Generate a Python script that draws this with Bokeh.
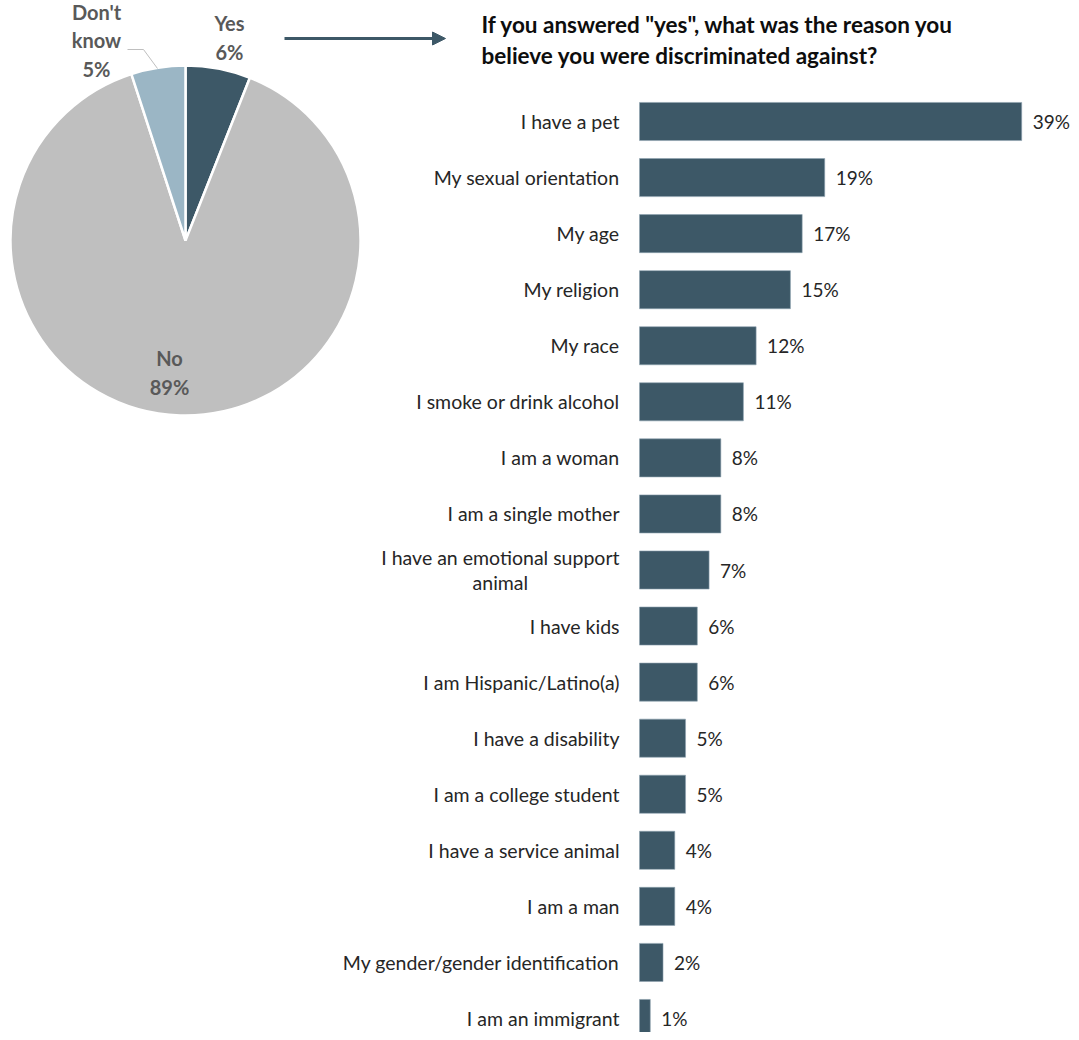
import math
from bokeh.plotting import figure
from bokeh.models import Range1d, Arrow, NormalHead, ColumnDataSource
from bokeh.core.properties import value
from bokeh.embed import file_html
from bokeh.resources import INLINE

# ---------------- data ----------------
pie_labels = ["Yes", "No", "Don't know"]
pie_values = [6, 89, 5]
pie_colors = ["#3d5867", "#bfbfbf", "#9bb6c5"]

title_lines = ['If you answered "yes", what was the reason you',
               'believe you were discriminated against?']

categories = [
    "I have a pet", "My sexual orientation", "My age", "My religion", "My race",
    "I smoke or drink alcohol", "I am a woman", "I am a single mother",
    "I have an emotional support\nanimal", "I have kids", "I am Hispanic/Latino(a)",
    "I have a disability", "I am a college student", "I have a service animal",
    "I am a man", "My gender/gender identification", "I am an immigrant",
]
values = [39.0, 18.9, 16.6, 15.4, 11.9, 10.6, 8.3, 8.3, 7.1, 5.9, 5.9, 4.7, 4.7, 3.6, 3.6, 2.4, 1.1]

BAR_COLOR = "#3d5867"
TEXT_COLOR = "#262626"
PIE_TEXT = "#595959"
FONT = "Lato"

W, H = 1071, 1032
n = len(categories)
top_c, bot_c = 121.0, 1018.0          # canvas centres of first / last bar
pitch = (bot_c - top_c) / (n - 1)
px_per_pct = 9.8
bar_left_px = 639

def Y(r):  # reference pixel row -> "py" range value
    return H - r

p = figure(width=W, height=H, output_backend="svg", toolbar_location=None,
           x_range=Range1d(-bar_left_px / px_per_pct, (W - bar_left_px) / px_per_pct),
           y_range=Range1d(-(H - bot_c) / pitch, (n - 1) + top_c / pitch),
           min_border=0, min_border_left=0, min_border_right=0,
           min_border_top=0, min_border_bottom=0)
p.axis.visible = False
p.grid.visible = False
p.outline_line_color = None
p.background_fill_color = "white"
p.border_fill_color = "white"

p.extra_x_ranges = {"px": Range1d(0, W)}
p.extra_y_ranges = {"py": Range1d(0, H)}

# ---------------- bars ----------------
ys = [n - 1 - i for i in range(n)]
src = ColumnDataSource(dict(
    y=ys, v=values, cat=categories,
    lab=[f"{v:.0f}%" for v in values],
))
p.hbar(y="y", left=0, right="v", height=0.68, source=src,
       fill_color=BAR_COLOR, line_color="#8ea3b0", line_width=0.6)
p.text(x=0, y="y", text="cat", source=src, x_offset=-20,
       anchor="center_right", text_align="center", text_baseline="middle",
       text_font=value(FONT), text_font_size="19.5px", text_color=TEXT_COLOR,
       text_line_height=1.12)
p.text(x="v", y="y", text="lab", source=src, x_offset=11,
       text_align="left", text_baseline="middle",
       text_font=value(FONT), text_font_size="19px", text_color=TEXT_COLOR)

# ---------------- title ----------------
p.text(x=[481, 481], y=[Y(24), Y(55)], text=title_lines,
       x_range_name="px", y_range_name="py",
       text_align="left", text_baseline="middle",
       text_font=value(FONT), text_font_style="bold", text_font_size="22.5px",
       text_color="#0d0d0d")

# ---------------- arrow ----------------
p.add_layout(Arrow(x_start=284, y_start=Y(38), x_end=445, y_end=Y(38),
                   x_range_name="px", y_range_name="py",
                   line_color="#3d5867", line_width=3,
                   end=NormalHead(size=13, fill_color="#3d5867", line_color="#3d5867")))

# ---------------- pie ----------------
total = sum(pie_values)
starts, ends = [], []
a = math.pi / 2
for v in pie_values:
    starts.append(a)
    a -= 2 * math.pi * v / total
    ends.append(a)
pie_src = ColumnDataSource(dict(start=starts, end=ends, color=pie_colors, label=pie_labels))
p.wedge(x=185, y=Y(240), radius=175, start_angle="start", end_angle="end",
        direction="clock", fill_color="color", line_color="white", line_width=2.5,
        source=pie_src, x_range_name="px", y_range_name="py")

pie_text = [f"{lab}\n{v}%" for lab, v in zip(pie_labels, pie_values)]
pie_text[2] = "Don't\nknow\n5%"
p.text(x=[229, 169, 96], y=[Y(37), Y(372), Y(40)], text=pie_text,
       x_range_name="px", y_range_name="py",
       text_align="center", text_baseline="middle",
       text_font=value(FONT), text_font_style="bold", text_font_size="20px",
       text_color=PIE_TEXT, text_line_height=1.2)
p.line(x=[127, 143, 157], y=[Y(49), Y(49), Y(68)],
       x_range_name="px", y_range_name="py", line_color="#bfbfbf", line_width=1)

open("out.html", "w").write(file_html(p, INLINE))
